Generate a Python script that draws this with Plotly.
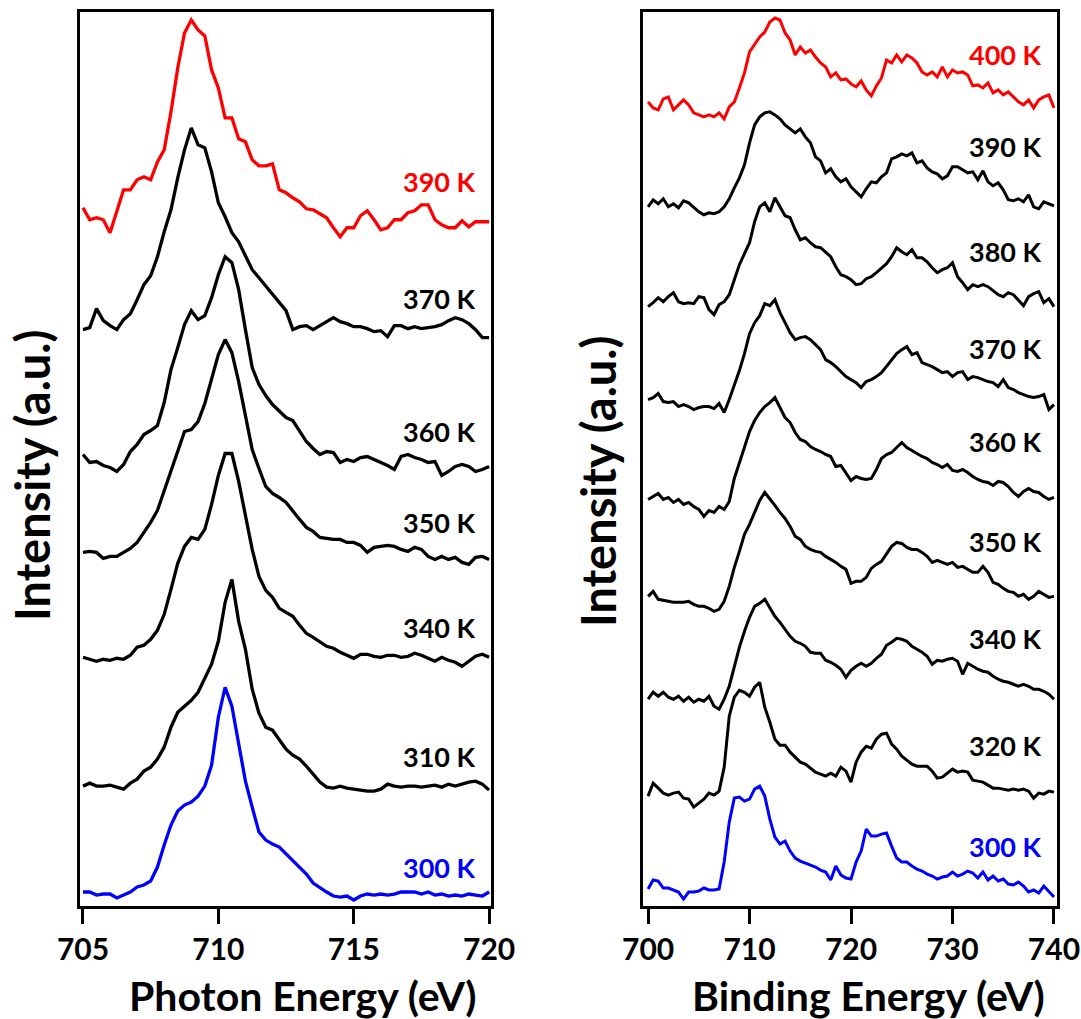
import plotly.graph_objects as go

# ---------------- data: left panel (photon energy) ----------------
left_energy = [705.00, 705.25, 705.50, 705.75, 706.00, 706.25, 706.50, 706.75, 707.00, 707.25,
               707.50, 707.75, 708.00, 708.25, 708.50, 708.75, 709.00, 709.25, 709.50, 709.75,
               710.00, 710.25, 710.50, 710.75, 711.00, 711.25, 711.50, 711.75, 712.00, 712.25,
               712.50, 712.75, 713.00, 713.25, 713.50, 713.75, 714.00, 714.25, 714.50, 714.75,
               715.00, 715.25, 715.50, 715.75, 716.00, 716.25, 716.50, 716.75, 717.00, 717.25,
               717.50, 717.75, 718.00, 718.25, 718.50, 718.75, 719.00, 719.25, 719.50, 719.75,
               720.00]

left_temps = ["390 K", "370 K", "360 K", "350 K", "340 K", "310 K", "300 K"]
left_colors = ["#ff0000", "#000000", "#000000", "#000000", "#000000", "#000000", "#0000ff"]

left_390 = [699, 687, 689, 687, 674, 695, 717, 717, 727, 730, 727, 745, 757, 795, 839, 874, 887, 877, 871, 837,
            819, 789, 789, 768, 765, 747, 741, 741, 743, 717, 714, 709, 705, 698, 697, 693, 689, 679, 670, 679,
            679, 691, 696, 687, 677, 679, 687, 687, 694, 696, 702, 702, 687, 682, 679, 679, 686, 680, 685, 685,
            685]
left_370 = [577, 579, 598, 586, 581, 577, 587, 593, 607, 622, 631, 650, 675, 697, 729, 757, 779, 762, 759, 735,
            704, 690, 674, 665, 651, 637, 629, 621, 613, 605, 596, 577, 580, 581, 577, 581, 585, 589, 585, 583,
            580, 580, 578, 575, 576, 570, 581, 581, 578, 580, 578, 579, 580, 582, 586, 589, 587, 583, 577, 569,
            569]
left_360 = [452, 444, 445, 441, 439, 435, 442, 455, 462, 472, 476, 481, 504, 537, 559, 582, 596, 587, 591, 609,
            632, 650, 644, 617, 577, 539, 522, 511, 502, 495, 489, 486, 475, 465, 458, 452, 455, 454, 444, 447,
            445, 449, 450, 447, 444, 441, 437, 450, 452, 449, 447, 444, 445, 431, 435, 440, 442, 440, 435, 437,
            440]
left_350 = [354, 355, 354, 348, 350, 350, 354, 358, 364, 374, 384, 396, 416, 437, 456, 475, 477, 485, 503, 529,
            552, 567, 554, 525, 491, 457, 438, 420, 413, 409, 404, 395, 387, 379, 375, 369, 368, 367, 367, 364,
            364, 361, 354, 359, 360, 361, 360, 357, 355, 359, 357, 350, 347, 350, 347, 349, 344, 342, 349, 350,
            347]
left_340 = [249, 247, 245, 247, 246, 248, 247, 251, 259, 261, 267, 276, 292, 317, 343, 360, 369, 367, 377, 402,
            431, 453, 453, 425, 392, 357, 330, 316, 309, 298, 294, 290, 281, 273, 269, 264, 260, 258, 254, 251,
            248, 252, 252, 250, 249, 251, 251, 249, 250, 253, 251, 248, 245, 249, 246, 244, 240, 245, 250, 252,
            249]
left_310 = [120, 123, 120, 120, 121, 119, 117, 123, 127, 135, 139, 147, 159, 179, 194, 200, 206, 214, 228, 242,
            265, 304, 327, 285, 257, 217, 193, 179, 176, 167, 157, 151, 147, 140, 132, 124, 119, 118, 120, 118,
            117, 116, 115, 115, 117, 122, 120, 119, 120, 120, 119, 120, 121, 119, 122, 120, 122, 124, 125, 122,
            116]
left_300 = [14, 14, 11, 12, 12, 8, 11, 14, 19, 21, 25, 39, 61, 81, 95, 101, 104, 110, 120, 141,
            189, 219, 200, 162, 125, 99, 74, 66, 62, 59, 52, 45, 39, 32, 23, 18, 14, 10, 9, 10,
            6, 10, 12, 11, 12, 11, 12, 14, 14, 14, 12, 14, 11, 12, 10, 11, 10, 12, 11, 10,
            14]
left_series = [left_390, left_370, left_360, left_350, left_340, left_310, left_300]

# ---------------- data: right panel (binding energy) ----------------
right_energy = [700.0, 700.5, 701.0, 701.5, 702.0, 702.5, 703.0, 703.5, 704.0, 704.5,
                705.0, 705.5, 706.0, 706.5, 707.0, 707.5, 708.0, 708.5, 709.0, 709.5,
                710.0, 710.5, 711.0, 711.5, 712.0, 712.5, 713.0, 713.5, 714.0, 714.5,
                715.0, 715.5, 716.0, 716.5, 717.0, 717.5, 718.0, 718.5, 719.0, 719.5,
                720.0, 720.5, 721.0, 721.5, 722.0, 722.5, 723.0, 723.5, 724.0, 724.5,
                725.0, 725.5, 726.0, 726.5, 727.0, 727.5, 728.0, 728.5, 729.0, 729.5,
                730.0, 730.5, 731.0, 731.5, 732.0, 732.5, 733.0, 733.5, 734.0, 734.5,
                735.0, 735.5, 736.0, 736.5, 737.0, 737.5, 738.0, 738.5, 739.0, 739.5,
                740.0]

right_temps = ["400 K", "390 K", "380 K", "370 K", "360 K", "350 K", "340 K", "320 K", "300 K"]
right_colors = ["#ff0000", "#000000", "#000000", "#000000", "#000000", "#000000", "#000000", "#000000", "#0000ff"]

right_400 = [805, 799, 797, 808, 810, 797, 802, 807, 802, 794, 792, 790, 792, 790, 794, 788, 800, 805, 819, 834,
             855, 862, 870, 875, 885, 889, 887, 874, 867, 852, 860, 854, 857, 850, 844, 840, 830, 834, 827, 828,
             823, 820, 826, 817, 811, 821, 829, 847, 844, 852, 845, 852, 849, 844, 835, 832, 835, 830, 840, 830,
             837, 834, 835, 832, 821, 822, 819, 824, 814, 817, 812, 815, 810, 805, 802, 807, 799, 807, 810, 812,
             799]
right_390 = [700, 707, 703, 708, 700, 703, 699, 706, 704, 699, 695, 692, 694, 693, 695, 700, 708, 719, 729, 742,
             764, 782, 790, 794, 795, 792, 788, 782, 778, 774, 778, 770, 764, 750, 746, 734, 738, 730, 725, 728,
             720, 715, 710, 718, 725, 724, 730, 734, 748, 750, 753, 751, 754, 744, 746, 739, 735, 733, 728, 731,
             740, 740, 737, 734, 735, 727, 736, 725, 721, 724, 717, 707, 706, 708, 705, 712, 700, 698, 705, 703,
             701]
right_380 = [600, 604, 609, 605, 610, 614, 605, 603, 604, 603, 610, 609, 597, 592, 602, 605, 612, 628, 642, 653,
             664, 685, 700, 704, 695, 709, 700, 691, 689, 677, 667, 669, 664, 660, 659, 654, 650, 640, 632, 630,
             627, 622, 623, 628, 630, 634, 639, 643, 650, 659, 655, 652, 657, 649, 649, 645, 639, 634, 637, 639,
             644, 630, 624, 617, 622, 620, 622, 620, 616, 612, 610, 614, 612, 607, 601, 610, 613, 615, 604, 608,
             600]
right_370 = [507, 509, 513, 505, 504, 505, 500, 502, 500, 497, 499, 500, 500, 498, 503, 494, 507, 521, 536, 553,
             573, 584, 591, 603, 601, 607, 594, 584, 574, 567, 569, 570, 567, 562, 557, 547, 544, 540, 535, 530,
             527, 524, 519, 525, 527, 530, 534, 540, 547, 553, 557, 560, 552, 554, 544, 542, 540, 537, 534, 535,
             530, 534, 535, 527, 530, 529, 527, 525, 524, 520, 527, 519, 517, 514, 512, 510, 509, 510, 512, 497,
             502]
right_360 = [407, 410, 413, 407, 409, 404, 407, 402, 404, 400, 397, 390, 396, 394, 400, 397, 405, 428, 443, 459,
             475, 486, 494, 500, 504, 509, 499, 489, 484, 474, 467, 465, 460, 457, 455, 452, 450, 440, 441, 434,
             426, 430, 428, 427, 428, 437, 448, 452, 454, 459, 464, 459, 456, 453, 450, 448, 444, 442, 439, 442,
             436, 435, 437, 434, 430, 427, 425, 424, 421, 425, 424, 420, 414, 410, 415, 418, 415, 414, 410, 407,
             409]
right_350 = [310, 315, 307, 306, 305, 304, 304, 304, 305, 302, 300, 300, 298, 295, 297, 305, 320, 339, 355, 372,
             382, 395, 406, 414, 408, 401, 394, 388, 380, 370, 367, 360, 357, 355, 354, 350, 347, 344, 340, 337,
             323, 325, 325, 329, 338, 342, 345, 352, 360, 364, 363, 359, 357, 357, 354, 350, 344, 346, 344, 342,
             344, 339, 340, 337, 334, 334, 340, 334, 324, 322, 318, 315, 314, 310, 312, 307, 310, 315, 312, 309,
             310]
right_340 = [207, 214, 210, 214, 209, 207, 210, 205, 209, 204, 207, 205, 210, 200, 197, 207, 220, 239, 259, 275,
             289, 300, 303, 307, 299, 290, 284, 277, 270, 265, 263, 260, 254, 253, 253, 246, 244, 241, 237, 229,
             236, 240, 243, 240, 243, 248, 252, 261, 264, 268, 267, 265, 260, 257, 254, 250, 242, 246, 245, 247,
             248, 245, 232, 243, 240, 237, 235, 234, 230, 227, 225, 224, 222, 220, 222, 220, 217, 217, 215, 212,
             207]
right_320 = [110, 123, 118, 113, 111, 113, 114, 108, 107, 99, 103, 107, 113, 111, 115, 139, 190, 209, 216, 214,
             210, 219, 224, 199, 184, 167, 161, 161, 154, 149, 144, 142, 138, 134, 132, 130, 133, 130, 139, 135,
             124, 144, 154, 160, 158, 167, 172, 173, 162, 157, 150, 146, 142, 140, 140, 140, 135, 128, 129, 133,
             137, 134, 135, 134, 126, 125, 124, 121, 118, 118, 117, 116, 117, 116, 117, 115, 108, 113, 112, 115,
             114]
right_300 = [17, 26, 25, 18, 18, 16, 14, 7, 14, 14, 15, 18, 16, 16, 17, 44, 84, 108, 109, 105,
             107, 117, 120, 110, 87, 69, 62, 65, 55, 48, 45, 43, 41, 39, 36, 34, 26, 40, 31, 28,
             27, 44, 55, 77, 70, 70, 72, 73, 60, 48, 44, 44, 40, 37, 35, 32, 30, 27, 29, 30,
             34, 30, 32, 35, 33, 28, 34, 26, 30, 25, 27, 22, 21, 24, 20, 14, 16, 13, 20, 15,
             9]
right_series = [right_400, right_390, right_380, right_370, right_360, right_350, right_340, right_320, right_300]

left_ticks = [705, 710, 715, 720]
right_ticks = [700, 710, 720, 730, 740]

# label heights (intensity units) for the temperature tags
left_label_y = [725, 608, 475, 384, 279, 150, 39]
right_label_y = [852, 760, 655, 558, 465, 365, 268, 161, 60]

# ---------------- figure ----------------
W, H = 1081, 1019
FONT = "Lato"
fig = go.Figure()

for temp, col, ys in zip(left_temps, left_colors, left_series):
    fig.add_trace(go.Scatter(x=left_energy, y=ys, mode="lines", name=temp,
                             line=dict(color=col, width=3.3), xaxis="x", yaxis="y",
                             showlegend=False, hoverinfo="skip"))
for temp, col, ys in zip(right_temps, right_colors, right_series):
    fig.add_trace(go.Scatter(x=right_energy, y=ys, mode="lines", name=temp,
                             line=dict(color=col, width=3), xaxis="x2", yaxis="y2",
                             showlegend=False, hoverinfo="skip"))

annotations = []
for temp, col, yv in zip(left_temps, left_colors, left_label_y):
    annotations.append(dict(x=719.6, y=yv, xref="x", yref="y", text=temp, showarrow=False,
                            xanchor="right", yanchor="middle",
                            font=dict(family=FONT, size=27, color=col, weight="bold")))
for temp, col, yv in zip(right_temps, right_colors, right_label_y):
    annotations.append(dict(x=739.0, y=yv, xref="x2", yref="y2", text=temp, showarrow=False,
                            xanchor="right", yanchor="middle",
                            font=dict(family=FONT, size=27, color=col, weight="bold")))

xtitle_font = dict(family=FONT, size=41, color="black", weight="bold")
ytitle_font = dict(family=FONT, size=47, color="black", weight="bold")
annotations += [
    dict(x=303 / W, y=1 - 995 / H, xref="paper", yref="paper", text="Photon Energy (eV)",
         showarrow=False, xanchor="center", yanchor="middle", font=xtitle_font),
    dict(x=868 / W, y=1 - 995 / H, xref="paper", yref="paper", text="Binding Energy (eV)",
         showarrow=False, xanchor="center", yanchor="middle", font=xtitle_font),
    dict(x=32 / W, y=1 - 476 / H, xref="paper", yref="paper", text="Intensity (a.u.)",
         textangle=-90, showarrow=False, xanchor="center", yanchor="middle", font=ytitle_font),
    dict(x=598 / W, y=1 - 482 / H, xref="paper", yref="paper", text="Intensity (a.u.)",
         textangle=-90, showarrow=False, xanchor="center", yanchor="middle", font=ytitle_font),
]

xcommon = dict(showline=True, mirror=True, linecolor="black", linewidth=2.5,
               ticks="outside", ticklen=15, tickwidth=3, tickcolor="black",
               showgrid=False, zeroline=False, automargin=False,
               tickfont=dict(family=FONT, size=30, color="black", weight="bold"))
ycommon = dict(showline=True, mirror=True, linecolor="black", linewidth=2.5,
               showticklabels=False, ticks="", showgrid=False, zeroline=False,
               automargin=False, range=[0, 895], domain=[1 - 906 / H, 1 - 12 / H])

fig.update_layout(
    template="none",
    width=W, height=H, margin=dict(l=0, r=0, t=0, b=0, autoexpand=False),
    paper_bgcolor="white", plot_bgcolor="white",
    xaxis=dict(xcommon, domain=[80 / W, 491 / W], range=[704.89, 720.07],
               tickvals=left_ticks, ticktext=[str(t) for t in left_ticks], anchor="y"),
    yaxis=dict(ycommon, anchor="x"),
    xaxis2=dict(xcommon, domain=[643 / W, 1057 / W], range=[699.5, 740.3],
                tickvals=right_ticks, ticktext=[str(t) for t in right_ticks], anchor="y2"),
    yaxis2=dict(ycommon, anchor="x2"),
    annotations=annotations,
)

fig.write_html("out.html")
